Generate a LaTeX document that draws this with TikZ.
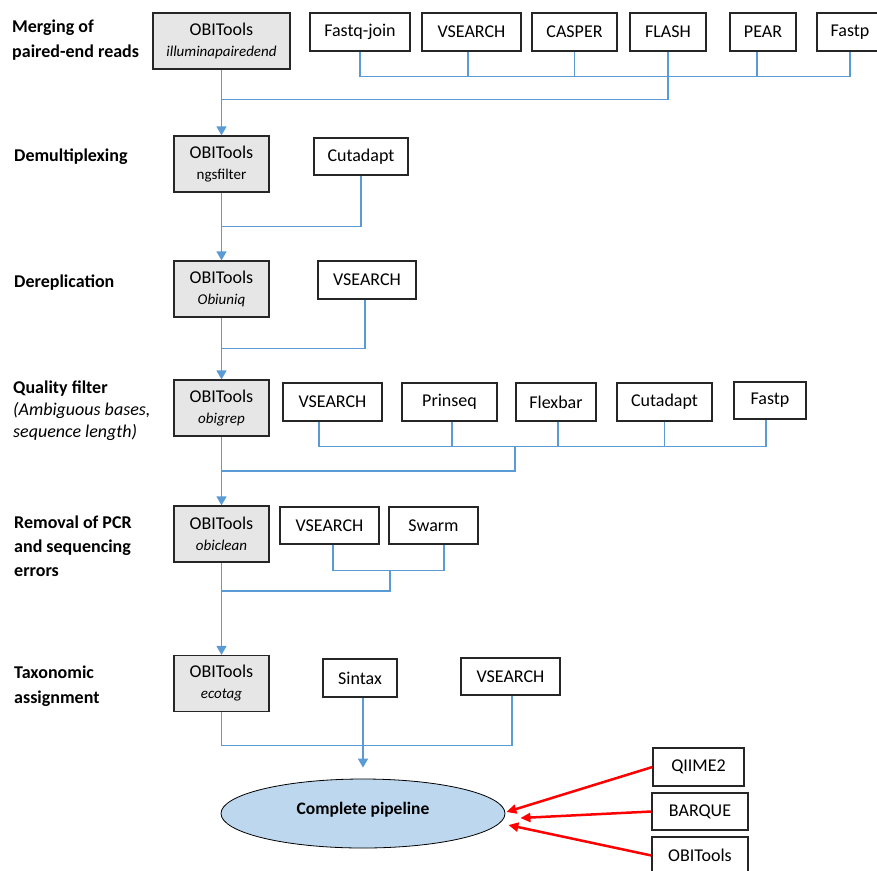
\documentclass[tikz,border=0pt]{standalone}
\usepackage{fontspec}
\setmainfont{Carlito}
\usetikzlibrary{arrows.meta,shapes.geometric}
\definecolor{linkblue}{HTML}{5B9BD5}
\definecolor{boxgray}{HTML}{E7E6E6}
\definecolor{pipefill}{HTML}{BDD7EE}
\newcommand{\toolsub}[1]{{\fontsize{15}{18}\selectfont\itshape #1}}

\begin{document}
\begin{tikzpicture}[x=1pt,y=-1pt,
   tool/.style={draw=black!85,line width=1.2pt,minimum height=38pt,inner sep=0pt,font=\fontsize{18}{21}\selectfont},
   obi/.style={tool,fill=boxgray,minimum width=95pt,minimum height=56pt,align=center},
   stagelabel/.style={anchor=west,align=left,inner sep=0pt},
   link/.style={linkblue,line width=1.1pt},
   flow/.style={linkblue,line width=1.4pt,-{Triangle[width=10pt,length=9pt]}},
   pick/.style={red,line width=2.5pt,-{Triangle[width=9pt,length=10pt]}}]
   \clip (0,0) rectangle (877,870);

   % stage labels
   \node[stagelabel,font=\fontsize{18}{25}\selectfont\bfseries] (lmerge) at (12,40) {Merging of\\paired-end reads};
   \node[stagelabel,font=\fontsize{18}{25}\selectfont\bfseries] (ldemux) at (14,157) {Demultiplexing};
   \node[stagelabel,font=\fontsize{18}{25}\selectfont\bfseries] (lderep) at (14,283) {Dereplication};
   \node[stagelabel,font=\fontsize{18}{22}\selectfont] (lqual) at (13,411) {\textbf{Quality filter}\\\itshape (Ambiguous bases,\\\itshape sequence length)};
   \node[stagelabel,font=\fontsize{18}{24}\selectfont\bfseries] (lclean) at (14,546) {Removal of PCR\\and sequencing\\errors};
   \node[stagelabel,font=\fontsize{18}{25}\selectfont\bfseries] (ltaxo) at (14,686.5) {Taxonomic\\assignment};

   % OBITools column
   \node[obi,minimum width=137pt] (obi1) at (221.5,41) {OBITools\\\toolsub{illuminapairedend}};
   \node[obi] (obi2) at (221.5,164) {OBITools\\{\fontsize{15}{18}\selectfont ngsfilter}};
   \node[obi] (obi3) at (221.5,289) {OBITools\\\toolsub{Obiuniq}};
   \node[obi] (obi4) at (221.5,408) {OBITools\\\toolsub{obigrep}};
   \node[obi] (obi5) at (221.5,534) {OBITools\\\toolsub{obiclean}};
   \node[obi] (obi6) at (221.5,683.5) {OBITools\\\toolsub{ecotag}};

   % merging tools
   \node[tool,minimum width=100pt] (fqjoin) at (360,32) {Fastq-join};
   \node[tool,minimum width=99pt] (vs1) at (471.5,32) {VSEARCH};
   \node[tool,minimum width=85pt] (casper) at (574.5,32) {CASPER};
   \node[tool,minimum width=76pt] (flash) at (668,32) {FLASH};
   \node[tool,minimum width=66pt] (pear) at (763,32) {PEAR};
   \node[tool,minimum width=66pt] (fastp1) at (850,32) {Fastp};

   % other tools
   \node[tool,minimum width=94pt,minimum height=37pt] (cut2) at (361,156.5) {Cutadapt};
   \node[tool,minimum width=98pt] (vs3) at (367,280) {VSEARCH};
   \node[tool,minimum width=99pt] (vs4) at (332.5,402) {VSEARCH};
   \node[tool,minimum width=95pt] (prinseq) at (449.5,402) {Prinseq};
   \node[tool,minimum width=80pt] (flexbar) at (556,402) {Flexbar};
   \node[tool,minimum width=95pt] (cut4) at (664.5,402) {Cutadapt};
   \node[tool,minimum width=72pt,minimum height=37pt] (fastp4) at (770,400.5) {Fastp};
   \node[tool,minimum width=99pt,minimum height=37pt] (vs5) at (329.5,525.5) {VSEARCH};
   \node[tool,minimum width=89pt,minimum height=37pt] (swarm) at (433.5,525.5) {Swarm};
   \node[tool,minimum width=74pt] (sintax) at (360,678) {Sintax};
   \node[tool,minimum width=99pt,minimum height=37pt] (vs6) at (510.5,676.5) {VSEARCH};

   % pipelines
   \node[ellipse,draw=black,line width=0.8pt,fill=pipefill,minimum width=284pt,minimum height=69pt,inner sep=0pt,
         text height=12pt,text depth=10pt,font=\fontsize{17.5}{21}\selectfont\bfseries] (pipe) at (363,813.5) {Complete pipeline};
   \node[tool,minimum width=91pt] (qiime) at (698.5,767) {QIIME2};
   \node[tool,minimum width=96pt,minimum height=37pt] (barque) at (700,811.5) {BARQUE};
   \node[tool,minimum width=96pt,minimum height=37pt] (obi7) at (700,855.5) {OBITools};

   % merging connectors
   \draw[link] (fqjoin.south) -- ++(0,25) -| (fastp1.south);
   \draw[link] ([xshift=-3.5pt]vs1.south) -- ++(0,25);
   \draw[link] (casper.south) -- ++(0,25);
   \draw[link] ([xshift=-6pt]pear.south) -- ++(0,25);
   \draw[link] (flash.south) -- ++(0,48) -| (obi1.south);

   % demultiplexing and dereplication
   \draw[link] (cut2.south) -- ++(0,51) -| (obi2.south);
   \draw[link] ([xshift=-2pt]vs3.south) -- ++(0,49) -| (obi3.south);

   % quality filter
   \draw[link] ([xshift=-13.5pt]vs4.south) -- ++(0,25) -| ([xshift=-4pt]fastp4.south);
   \draw[link] ([xshift=2.5pt]prinseq.south) -- ++(0,25);
   \draw[link] ([xshift=2pt]flexbar.south) -- ++(0,25);
   \draw[link] (cut4.south) -- ++(0,25);
   \coordinate (qjoin) at (515,446);
   \draw[link] (qjoin) -- ++(0,25) -| (obi4.south);

   % removal of errors
   \draw[link] ([xshift=3.5pt]vs5.south) -- ++(0,26) -| ([xshift=10.5pt]swarm.south);
   \coordinate (rjoin) at (390,570);
   \draw[link] (rjoin) -- ++(0,21) -| (obi5.south);

   % taxonomic assignment
   \draw[link] (obi6.south) -- ++(0,33.5) -| ([xshift=1.5pt]vs6.south);
   \draw[flow,shorten >=11pt] ([xshift=3pt]sintax.south) -- ([xshift=3pt]sintax.south |- pipe.north);

   % main column
   \draw[flow] (obi1) -- (obi2);
   \draw[flow] (obi2) -- (obi3);
   \draw[flow] (obi3) -- (obi4);
   \draw[flow] (obi4) -- (obi5);
   \draw[flow] (obi5) -- (obi6);

   % complete pipelines
   \draw[pick] (qiime.west) -- ([xshift=1pt,yshift=1.5pt]pipe.east);
   \draw[pick] (barque.west) -- ([xshift=15pt,yshift=-4.5pt]pipe.east);
   \draw[pick] (obi7.west) -- ([xshift=3pt,yshift=-11.5pt]pipe.east);
\end{tikzpicture}
\end{document}
